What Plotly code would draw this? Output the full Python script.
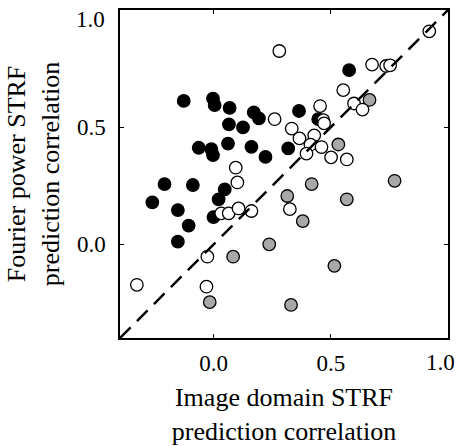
import plotly.graph_objects as go

# Black group
black_x = [-0.128, -0.003, 0.004, 0.068, 0.171, 0.193, 0.065, 0.125, -0.064, -0.010,
           -0.003, 0.061, 0.161, 0.221, 0.318, 0.364, 0.446, 0.578, -0.210, -0.089,
           0.047, -0.262, -0.153, 0.021, -0.001, -0.107, -0.153]
black_y = [0.612, 0.622, 0.594, 0.582, 0.563, 0.537, 0.512, 0.499, 0.412, 0.406,
           0.381, 0.430, 0.416, 0.373, 0.409, 0.569, 0.534, 0.743, 0.257, 0.253,
           0.234, 0.179, 0.146, 0.192, 0.116, 0.080, 0.011]

# White group
white_x = [0.280, 0.920, 0.676, 0.736, 0.753, 0.553, 0.599, 0.635, 0.260, 0.454,
           0.468, 0.471, 0.333, 0.366, 0.429, 0.413, 0.396, 0.460, 0.501, 0.568,
           0.094, 0.101, 0.032, 0.064, 0.106, 0.161, 0.325, -0.027, -0.328, -0.031]
white_y = [0.825, 0.909, 0.767, 0.761, 0.764, 0.658, 0.601, 0.575, 0.534, 0.590,
           0.530, 0.516, 0.494, 0.452, 0.465, 0.425, 0.387, 0.415, 0.371, 0.362,
           0.327, 0.264, 0.132, 0.132, 0.153, 0.142, 0.150, -0.053, -0.173, -0.181]

# Gray group
gray_x = [0.665, 0.532, 0.418, 0.772, 0.314, 0.568, 0.380, 0.237, 0.083, 0.515, -0.017, 0.330]
gray_y = [0.616, 0.426, 0.257, 0.271, 0.206, 0.192, 0.099, 0.000, -0.053, -0.092, -0.247, -0.259]

# Identity line endpoints
diag = [-0.4, 1.0]

tick_vals = [0.0, 0.5, 1.0]
tick_text = ["0.0", "0.5", "1.0"]

FONT = "Liberation Serif, Times New Roman, serif"
TICK_SIZE = 23

fig = go.Figure()

def add_group(xs, ys, color):
    fig.add_trace(go.Scatter(
        x=xs, y=ys, mode="markers",
        marker=dict(size=12.5, color=color, line=dict(color="black", width=1.3)),
        showlegend=False, cliponaxis=True,
    ))

add_group(black_x, black_y, "black")
add_group(gray_x, gray_y, "#a8a8a8")
add_group(white_x, white_y, "white")

fig.add_trace(go.Scatter(
    x=diag, y=diag, mode="lines",
    line=dict(color="black", width=2.5, dash="15px,9px"),
    showlegend=False,
))

# The last label on each axis is drawn as an annotation, nudged inward as in the reference
inner_text = tick_text[:-1] + [""]

axis_common = dict(
    range=[-0.4, 1.0], tickvals=tick_vals, ticktext=inner_text,
    ticks="inside", ticklen=4, tickwidth=1, tickcolor="black",
    showline=True, linecolor="black", linewidth=1.5, mirror="ticks",
    showgrid=False, zeroline=False, ticklabeloverflow="allow", automargin=False,
    tickfont=dict(family=FONT, size=TICK_SIZE, color="black"),
)

fig.add_annotation(x=tick_vals[-1], xref="x", y=0, yref="paper", text=tick_text[-1],
                   showarrow=False, xanchor="center", yanchor="middle",
                   xshift=-8, yshift=-24,
                   font=dict(family=FONT, size=TICK_SIZE, color="black"))
fig.add_annotation(x=0, xref="paper", y=tick_vals[-1], yref="y", text=tick_text[-1],
                   showarrow=False, xanchor="right", yanchor="middle",
                   xshift=-13, yshift=-9,
                   font=dict(family=FONT, size=TICK_SIZE, color="black"))

fig.update_layout(
    width=459, height=446,
    margin=dict(l=120, r=11, t=10, b=108, autoexpand=False),
    paper_bgcolor="white", plot_bgcolor="white",
    font=dict(family=FONT, color="black"),
    xaxis=dict(**axis_common, ticklabelstandoff=4,
               title=dict(text="Image domain STRF<br>prediction correlation",
                          font=dict(family=FONT, size=26, color="black"), standoff=15)),
    yaxis=dict(**axis_common, ticklabelstandoff=8,
               title=dict(text="Fourier power STRF<br>prediction correlation",
                          font=dict(family=FONT, size=26, color="black"), standoff=10)),
)

fig.write_html("out.html")
